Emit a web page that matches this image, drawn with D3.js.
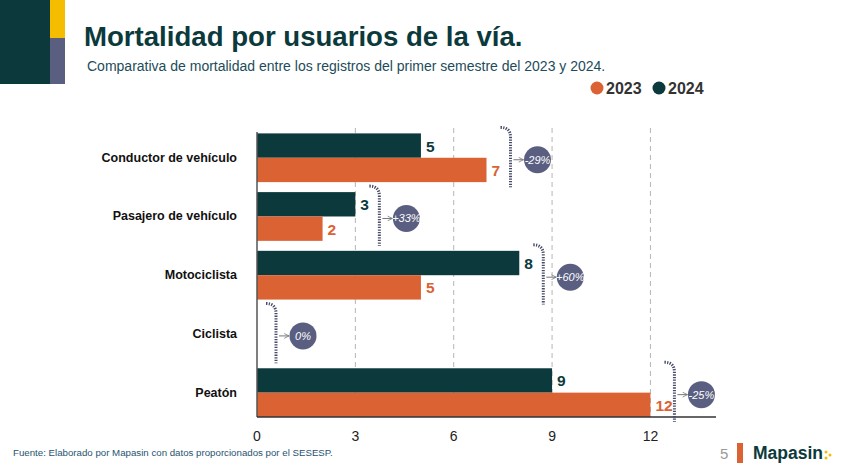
<!DOCTYPE html>
<html>
<head>
<meta charset="utf-8">
<script src="https://cdn.jsdelivr.net/npm/d3@7"></script>
<style>
  html, body { margin: 0; padding: 0; background: #fff; }
  svg { display: block; font-family: "Liberation Sans", Arial, Helvetica, sans-serif; }
</style>
</head>
<body>
<svg id="chart" width="853" height="475"></svg>
<script>
// ---- data ----
const categories = ["Conductor de vehículo", "Pasajero de vehículo", "Motociclista", "Ciclista", "Peatón"];
const values2023 = [7, 2, 5, 0, 12];
const values2024 = [5, 3, 8, 0, 9];
const changeLabels = ["-29%", "+33%", "+60%", "0%", "-25%"];
const seriesNames = ["2023", "2024"];
const xTicks = [0, 3, 6, 9, 12];
const titleText = "Mortalidad por usuarios de la vía.";
const subtitleText = "Comparativa de mortalidad entre los registros del primer semestre del 2023 y 2024.";
const sourceText = "Fuente: Elaborado por Mapasin con datos proporcionados por el SESESP.";

// ---- style ----
const C_DARK = "#0c3a3c";
const C_ORANGE = "#db6233";
const C_YELLOW = "#f5bd00";
const C_SLATE = "#5a5e80";

const svg = d3.select("#chart");

// decoration top-left
svg.append("rect").attr("x", 0).attr("y", 0).attr("width", 50).attr("height", 84).attr("fill", C_DARK);
svg.append("rect").attr("x", 50).attr("y", 0).attr("width", 15).attr("height", 38).attr("fill", C_YELLOW);
svg.append("rect").attr("x", 50).attr("y", 38).attr("width", 15).attr("height", 46).attr("fill", C_SLATE);

// title
svg.append("text").attr("x", 84).attr("y", 46).attr("font-size", 27.6).attr("font-weight", "bold")
  .attr("fill", C_DARK).text(titleText);
svg.append("text").attr("x", 87).attr("y", 71).attr("font-size", 14).attr("fill", "#1d4c5a")
  .text(subtitleText);

// legend
const legend = svg.append("g");
const legendItems = [{name: seriesNames[0], color: C_ORANGE, x: 597}, {name: seriesNames[1], color: C_DARK, x: 659}];
legendItems.forEach(d => {
  legend.append("circle").attr("cx", d.x).attr("cy", 88).attr("r", 6.5).attr("fill", d.color);
  legend.append("text").attr("x", d.x + 9).attr("y", 94).attr("font-size", 16).attr("font-weight", "bold")
    .attr("fill", "#333").text(d.name);
});

// scales
const x = d3.scaleLinear().domain([0, 14]).range([257, 716]);
const y = d3.scaleBand().domain(categories).range([128.4, 422]).paddingInner(0.17).paddingOuter(0.085);
const ySub = d3.scaleBand().domain(["2024", "2023"]).range([0, y.bandwidth()]);

const plotTop = 128, plotBottom = 417;

// gridlines
svg.append("g").selectAll("line").data(xTicks.filter(t => t > 0)).join("line")
  .attr("x1", d => x(d)).attr("x2", d => x(d))
  .attr("y1", plotTop).attr("y2", plotBottom)
  .attr("stroke", "#b5b5b5").attr("stroke-width", 1).attr("stroke-dasharray", "5,4");

// bars
const rows = categories.map((c, i) => ({cat: c, v23: values2023[i], v24: values2024[i], change: changeLabels[i]}));
const g = svg.append("g");
rows.forEach(r => {
  const y0 = y(r.cat);
  [["2024", r.v24, C_DARK], ["2023", r.v23, C_ORANGE]].forEach(([s, v, col]) => {
    if (v > 0) {
      g.append("rect").attr("x", x(0)).attr("y", y0 + ySub(s))
        .attr("width", x(v) - x(0)).attr("height", ySub.bandwidth())
        .attr("fill", col);
      g.append("text").attr("x", x(v) + 5).attr("y", y0 + ySub(s) + ySub.bandwidth() / 2 + 6)
        .attr("font-size", 15.5).attr("font-weight", "bold").attr("fill", col).text(v);
    }
  });
});

// axes lines
svg.append("line").attr("x1", x(0)).attr("x2", x(0)).attr("y1", 132).attr("y2", plotBottom)
  .attr("stroke", "#555").attr("stroke-width", 1.5);
svg.append("line").attr("x1", x(0)).attr("x2", x(14)).attr("y1", plotBottom).attr("y2", plotBottom)
  .attr("stroke", "#333").attr("stroke-width", 1.5);

// x tick labels
svg.append("g").selectAll("text").data(xTicks).join("text")
  .attr("x", d => x(d)).attr("y", 441).attr("text-anchor", "middle")
  .attr("font-size", 14).attr("fill", "#222").text(d => d);

// category labels
svg.append("g").selectAll("text").data(categories).join("text")
  .attr("x", 237).attr("y", d => y(d) + y.bandwidth() / 2 + 4)
  .attr("text-anchor", "end").attr("font-size", 12.5).attr("font-weight", "bold")
  .attr("fill", "#111").text(d => d);

// change annotations
const defs = svg.append("defs");
defs.append("marker").attr("id", "arr").attr("viewBox", "0 0 10 10").attr("refX", 9).attr("refY", 5)
  .attr("markerWidth", 6).attr("markerHeight", 6).attr("orient", "auto")
  .append("path").attr("d", "M1,1 L9,5 L1,9").attr("fill", "none").attr("stroke", "#777").attr("stroke-width", 1.3);

rows.forEach(r => {
  const m = Math.max(r.v23, r.v24);
  const lx = x(m) + (m === 0 ? 19 : 24);
  const top = y(r.cat) - 6;
  const bottom = y(r.cat) + y.bandwidth() + 5;
  const cy = y(r.cat) + y.bandwidth() / 2 + 2;
  const path = d3.path();
  path.moveTo(lx - 10, top);
  path.quadraticCurveTo(lx, top, lx, top + 10);
  path.lineTo(lx, bottom);
  svg.append("path").attr("d", path.toString()).attr("fill", "none")
    .attr("stroke", "#464b68").attr("stroke-width", 3).attr("stroke-dasharray", "1.3,1.3");
  const cx = lx + 27;
  svg.append("line").attr("x1", lx + 3).attr("x2", cx - 14).attr("y1", cy).attr("y2", cy)
    .attr("stroke", "#777").attr("stroke-width", 1).attr("marker-end", "url(#arr)");
  svg.append("circle").attr("cx", cx).attr("cy", cy).attr("r", 13.5).attr("fill", C_SLATE);
  svg.append("text").attr("x", cx).attr("y", cy + 4).attr("text-anchor", "middle")
    .attr("font-size", 11).attr("font-style", "italic").attr("fill", "#fff").text(r.change);
});

// footer
svg.append("text").attr("x", 13).attr("y", 456).attr("font-size", 9.7).attr("fill", "#1f5470").text(sourceText);
svg.append("text").attr("x", 720).attr("y", 459).attr("font-size", 15).attr("fill", "#9a9a9a").text("5");
svg.append("rect").attr("x", 737).attr("y", 443).attr("width", 6).attr("height", 20).attr("fill", C_ORANGE);
svg.append("text").attr("x", 753).attr("y", 459).attr("font-size", 17.5).attr("font-weight", "bold")
  .attr("fill", C_DARK).text("Mapasin");
[[826, 452], [830, 455], [826, 458]].forEach(([cx, cy]) => {
  svg.append("circle").attr("cx", cx).attr("cy", cy).attr("r", 1.5).attr("fill", C_YELLOW);
});
</script>
</body>
</html>
